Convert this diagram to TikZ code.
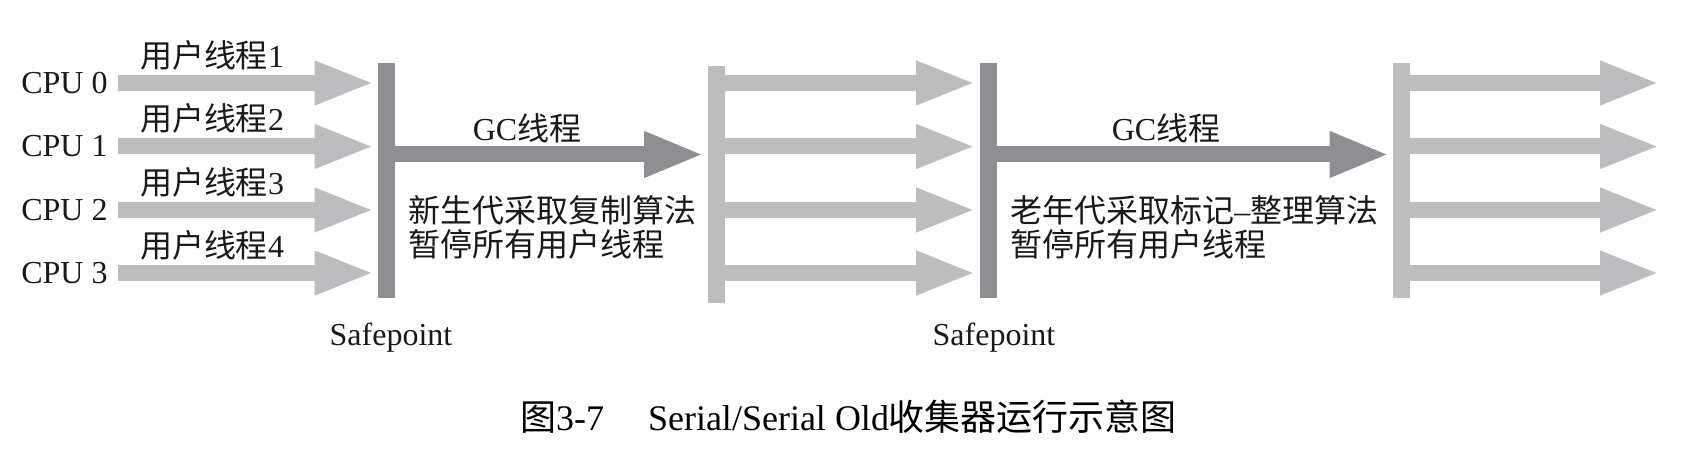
\documentclass[tikz,border=0pt]{standalone}
\usepackage{fontspec}
\setmainfont{Liberation Serif}
\newfontfamily\cjk{Noto Sans CJK SC}
\usetikzlibrary{arrows.meta}

\definecolor{bargray}{RGB}{141,143,146}
\definecolor{flowgray}{RGB}{187,189,191}

\tikzset{
  lab/.style={inner sep=0pt, text=black!90, font=\fontsize{16}{17}\selectfont},
  darkbar/.style={fill=bargray, inner sep=0pt, minimum width=8.5pt, minimum height=117.5pt},
  lightbar/.style={fill=flowgray, inner sep=0pt, minimum width=8.5pt, minimum height=117.5pt},
  flow/.style={draw=flowgray, line width=8pt, -{Triangle[length=30pt,width=20pt]}, shorten >=1.5pt},
  gcflow/.style={draw=bargray, line width=8pt, -{Triangle[length=30pt,width=21pt]}, shorten >=1.5pt}
}

\begin{document}
\begin{tikzpicture}[x=0.5pt,y=0.5pt,yscale=-1,xscale=1]
\useasboundingbox (0,0) rectangle (1683,454);

%Shape: Rectangle [safepoints and resume bars]
\node[darkbar] (sp1) at (386.5,180.5) {};
\node[lightbar,minimum height=118.5pt] (lb2) at (716,184.5) {};
\node[darkbar] (sp2) at (988,180.5) {};
\node[lightbar] (lb4) at (1401.5,180.5) {};

%GC row
\coordinate (gc) at (0,154.5);

%CPU rows
\foreach \y/\k [count=\i from 0] in {83/1,146.5/2,210/3,273/4}{
  \coordinate (r\i) at (0,\y);
  \coordinate (end\i) at (1663,\y);
  % Text Node
  \node[lab,anchor=east,inner sep=5pt] (cpu\i) at (118,\y) {CPU \i};
  % Text Node
  \node[lab] (ut\i) at (212,\y-28) {{\cjk 用户线程}\k};
  %Straight Lines
  \draw[flow] (cpu\i.east) -- (sp1.west |- r\i);
  \draw[flow] (lb2.east |- r\i) -- (sp2.west |- r\i);
  \draw[flow] (lb4.east |- r\i) -- (end\i);
}

%Straight Lines [GC threads]
\draw[gcflow] (sp1.east |- gc) -- (lb2.west |- gc);
\draw[gcflow] (sp2.east |- gc) -- (lb4.west |- gc);

% Text Node
\node[lab] (gc1) at (527,128.5) {GC{\cjk 线程}};
% Text Node
\node[lab,anchor=west,align=left] (young) at (408,227) {{\cjk 新生代采取复制算法}\\{\cjk 暂停所有用户线程}};
% Text Node
\node[lab] (gc2) at (1166,128.5) {GC{\cjk 线程}};
% Text Node
\node[lab,anchor=west,align=left] (old) at (1010,227) {{\cjk 老年代采取标记}--{\cjk 整理算法}\\{\cjk 暂停所有用户线程}};

% Text Node
\node[lab] (spl1) at (391,338) {Safepoint};
% Text Node
\node[lab] (spl2) at (994,338) {Safepoint};

% Text Node
\node[inner sep=0pt,font=\fontsize{18}{20}\selectfont] (caption) at (848.5,417) {{\cjk 图}3-7\hspace{22pt}Serial/Serial Old{\cjk 收集器运行示意图}};

\end{tikzpicture}
\end{document}
